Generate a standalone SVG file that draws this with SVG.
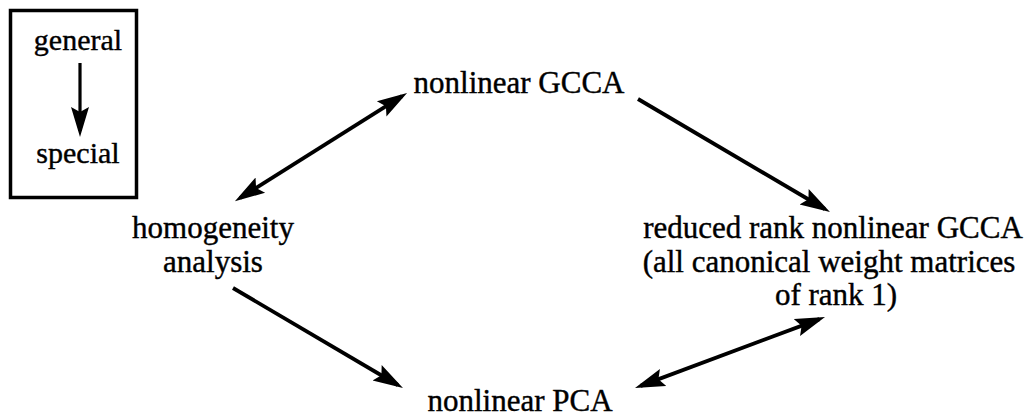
<svg xmlns="http://www.w3.org/2000/svg" width="1028" height="416" viewBox="0 0 1028 416">
<style>
text{font-family:"Liberation Serif","Times New Roman",serif;font-size:31px;fill:#000;stroke:#000;stroke-width:0.4;text-anchor:middle}
.legend text{font-size:30px}
.conn line{stroke:#000;stroke-width:3.8;fill:none}
</style>
<defs>
<marker id="ah" viewBox="0 -10 31 20" refX="24" refY="0" markerWidth="31" markerHeight="20" markerUnits="userSpaceOnUse" orient="auto-start-reverse">
<path d="M0,-9 L30,0 L0,9 L5,0 z" fill="#000"/>
</marker>
</defs>
<rect width="1028" height="416" fill="#fff"/>
<g id="legend" class="legend">
<rect x="10.5" y="10.5" width="126" height="187" fill="none" stroke="#000" stroke-width="3.5"/>
<text x="78" y="50">general</text>
<line x1="80" y1="63" x2="80" y2="131" stroke="#000" stroke-width="3.2" marker-end="url(#ah)"/>
<text x="78" y="163">special</text>
</g>
<g id="node-gcca"><text x="519" y="93">nonlinear GCCA</text></g>
<g id="node-homals"><text x="213" y="238">homogeneity</text><text x="213" y="272">analysis</text></g>
<g id="node-reduced"><text x="833" y="238">reduced rank nonlinear GCCA</text><text x="829" y="272">(all canonical weight matrices</text><text x="836" y="305">of rank 1)</text></g>
<g id="node-pca"><text x="520" y="411">nonlinear PCA</text></g>
<g id="connectors" class="conn">
<line x1="240" y1="198" x2="402" y2="96.2" marker-start="url(#ah)" marker-end="url(#ah)"/>
<line x1="638" y1="99" x2="824.8" y2="209" marker-end="url(#ah)"/>
<line x1="233" y1="288" x2="397.8" y2="385" marker-end="url(#ah)"/>
<line x1="640.6" y1="385.9" x2="819.4" y2="319.1" marker-start="url(#ah)" marker-end="url(#ah)"/>
</g>
</svg>
